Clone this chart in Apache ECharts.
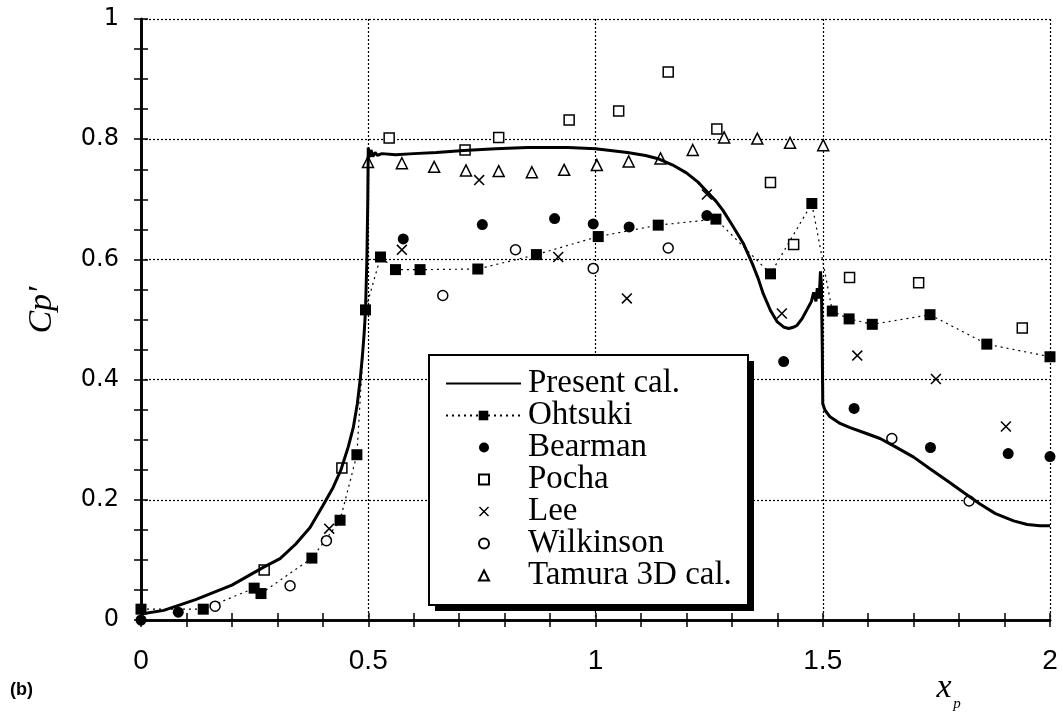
<!DOCTYPE html>
<html>
<head>
<meta charset="utf-8">
<script src="https://cdn.jsdelivr.net/npm/echarts@6/dist/echarts.min.js"></script>
<style>
  html, body { margin: 0; padding: 0; background: #fff; }
  #chart { width: 1063px; height: 715px; }
</style>
</head>
<body>
<div id="chart"></div>
<script>
// Fluctuating pressure coefficient Cp' along the body surface x_p

const xTickValues = [0, 0.5, 1, 1.5, 2];
const xTickLabels = ['0', '0.5', '1', '1.5', '2'];
const yTickValues = [0, 0.2, 0.4, 0.6, 0.8, 1];
const yTickLabels = ['0', '0.2', '0.4', '0.6', '0.8', '1'];

const seriesNames = ['Present cal.', 'Ohtsuki', 'Bearman', 'Pocha', 'Lee', 'Wilkinson', 'Tamura 3D cal.'];

// Present calculation (solid curve)
const presentCal = [
  [0, 0.010], [0.05, 0.016], [0.12, 0.034], [0.2, 0.058], [0.27, 0.088], [0.306, 0.102],
  [0.34, 0.126], [0.372, 0.154], [0.40, 0.190], [0.423, 0.221], [0.44, 0.250], [0.456, 0.288],
  [0.467, 0.320], [0.476, 0.360], [0.482, 0.398], [0.487, 0.438], [0.491, 0.477], [0.494, 0.516],
  [0.497, 0.600], [0.499, 0.700], [0.500, 0.786], [0.503, 0.770], [0.506, 0.782], [0.510, 0.771],
  [0.515, 0.778], [0.520, 0.773], [0.530, 0.776], [0.56, 0.774], [0.60, 0.776], [0.65, 0.778],
  [0.71, 0.781], [0.78, 0.784], [0.85, 0.786], [0.94, 0.786], [1.00, 0.784], [1.07, 0.778],
  [1.11, 0.773], [1.14, 0.767], [1.17, 0.757], [1.20, 0.744], [1.225, 0.729], [1.245, 0.713],
  [1.265, 0.697], [1.28, 0.682], [1.30, 0.658], [1.325, 0.627], [1.345, 0.593], [1.358, 0.568],
  [1.369, 0.543], [1.385, 0.515], [1.40, 0.496], [1.415, 0.487], [1.425, 0.485], [1.435, 0.487],
  [1.443, 0.490], [1.455, 0.502], [1.465, 0.516], [1.475, 0.530], [1.480, 0.545], [1.485, 0.530],
  [1.488, 0.552], [1.492, 0.535], [1.495, 0.580], [1.497, 0.560], [1.499, 0.450], [1.500, 0.360],
  [1.505, 0.349], [1.516, 0.338], [1.538, 0.327], [1.56, 0.320], [1.59, 0.312], [1.626, 0.302],
  [1.66, 0.288], [1.70, 0.271], [1.735, 0.252], [1.773, 0.232], [1.81, 0.212], [1.846, 0.193],
  [1.88, 0.177], [1.92, 0.165], [1.95, 0.159], [1.978, 0.157], [2.0, 0.157]
];

// Ohtsuki (filled squares joined by a dotted line)
const ohtsuki = [
  [0, 0.018], [0.137, 0.018], [0.249, 0.053], [0.264, 0.044], [0.376, 0.103], [0.438, 0.166],
  [0.475, 0.275], [0.494, 0.516], [0.527, 0.604], [0.560, 0.583], [0.614, 0.583], [0.741, 0.584],
  [0.870, 0.608], [1.006, 0.638], [1.138, 0.657], [1.265, 0.667], [1.385, 0.576], [1.476, 0.693],
  [1.521, 0.514], [1.558, 0.501], [1.609, 0.492], [1.736, 0.508], [1.861, 0.459], [2.0, 0.438]
];

const bearman = [
  [0, 0], [0.082, 0.013], [0.577, 0.634], [0.751, 0.658], [0.910, 0.668], [0.995, 0.659],
  [1.074, 0.654], [1.245, 0.673], [1.414, 0.430], [1.569, 0.352], [1.737, 0.287], [1.908, 0.277],
  [2.0, 0.272]
];

const pocha = [
  [0.271, 0.083], [0.442, 0.253], [0.546, 0.802], [0.713, 0.782], [0.787, 0.803], [0.942, 0.832],
  [1.051, 0.847], [1.160, 0.912], [1.267, 0.817], [1.385, 0.728], [1.436, 0.625], [1.559, 0.570],
  [1.711, 0.561], [1.939, 0.486]
];

const lee = [
  [0.414, 0.152], [0.574, 0.616], [0.744, 0.732], [0.918, 0.604], [1.069, 0.535], [1.245, 0.708],
  [1.410, 0.510], [1.576, 0.440], [1.749, 0.401], [1.903, 0.322]
];

const wilkinson = [
  [0.163, 0.023], [0.328, 0.057], [0.408, 0.132], [0.664, 0.540], [0.824, 0.616], [0.995, 0.585],
  [1.160, 0.619], [1.652, 0.302], [1.822, 0.198]
];

const tamura3D = [
  [0.4995, 0.762], [0.574, 0.760], [0.645, 0.754], [0.715, 0.748], [0.787, 0.747], [0.860, 0.745],
  [0.931, 0.749], [1.003, 0.757], [1.073, 0.763], [1.143, 0.768], [1.214, 0.782], [1.283, 0.803],
  [1.356, 0.801], [1.428, 0.794], [1.501, 0.790]
];

function tickLabel(values, labels) {
  return function (v) {
    for (let i = 0; i < values.length; i++) {
      if (Math.abs(values[i] - v) < 1e-9) return labels[i];
    }
    return '';
  };
}

const crossPath = 'path://M0,1L1,0L10,9L9,10ZM9,0L10,1L1,10L0,9Z';
const black = '#000';
const tickStyle = { color: black, width: 1.5 };
const frameStyle = { color: black, width: 2.6 };
const serif = "'Liberation Serif', 'Times New Roman', serif";

// legend frame geometry
const boxLeft = 429, boxTop = 355, boxW = 319, boxH = 250, shadowOff = 6;
const rowPitch = 32, padTop = 12;

const chart = echarts.init(document.getElementById('chart'), null, { renderer: 'canvas' });

chart.setOption({
  backgroundColor: '#fff',
  animation: false,
  grid: { left: 141, top: 19, right: 13, bottom: 95, containLabel: false },
  xAxis: [
    {
      type: 'value', min: 0, max: 2, interval: 0.5,
      axisLine: { lineStyle: frameStyle },
      axisTick: { inside: true, length: 7, lineStyle: tickStyle },
      minorTick: { show: true, splitNumber: 5, length: 7, lineStyle: tickStyle },
      splitLine: { show: true, lineStyle: { color: black, width: 1.2, type: [2, 2] } },
      axisLabel: {
        margin: 27, color: black, fontSize: 28,
        fontFamily: "'Liberation Sans Narrow', 'Liberation Sans', Arial, sans-serif",
        formatter: tickLabel(xTickValues, xTickLabels)
      }
    },
    {
      type: 'value', min: 0, max: 2, interval: 0.5, position: 'top',
      axisLine: { lineStyle: frameStyle },
      axisTick: { inside: true, length: 7, lineStyle: tickStyle },
      minorTick: { show: true, splitNumber: 5, length: 7, lineStyle: tickStyle },
      splitLine: { show: false },
      axisLabel: { show: false }
    }
  ],
  yAxis: [
    {
      type: 'value', min: 0, max: 1, interval: 0.2,
      axisLine: { lineStyle: frameStyle },
      axisTick: { inside: true, length: 7, lineStyle: tickStyle },
      minorTick: { show: true, splitNumber: 4, length: 7, lineStyle: tickStyle },
      splitLine: { show: true, lineStyle: { color: black, width: 1.2, type: [2, 2] } },
      axisLabel: {
        margin: 22, color: black, fontSize: 24,
        fontFamily: "'DejaVu Sans', sans-serif",
        formatter: tickLabel(yTickValues, yTickLabels)
      }
    },
    {
      type: 'value', min: 0, max: 1, interval: 0.2, position: 'right',
      axisLine: { lineStyle: frameStyle },
      axisTick: { inside: true, length: 7, lineStyle: tickStyle },
      minorTick: { show: true, splitNumber: 4, length: 7, lineStyle: tickStyle },
      splitLine: { show: false },
      axisLabel: { show: false }
    }
  ],
  legend: [
    {
      // line samples
      orient: 'vertical',
      left: boxLeft, top: boxTop,
      padding: [padTop, 14, 0, 16],
      itemWidth: 75, itemHeight: 12, itemGap: -1,
      selectedMode: false,
      z: 11,
      data: [
        { name: seriesNames[0], itemStyle: { color: 'rgba(0,0,0,0)', borderWidth: 0 } },
        seriesNames[1]
      ],
      textStyle: { color: black, fontSize: 33, padding: [0, 0, 0, 2], fontFamily: serif }
    },
    {
      // marker-only entries, centred under the line samples
      orient: 'vertical',
      left: 478, top: boxTop + padTop + 2 * rowPitch,
      padding: 0,
      itemWidth: 10, itemHeight: 10, itemGap: -1,
      selectedMode: false,
      z: 11,
      data: seriesNames.slice(2),
      textStyle: { color: black, fontSize: 33, padding: [0, 0, 0, 34], fontFamily: serif }
    }
  ],
  series: [
    {
      name: seriesNames[0], type: 'line', data: presentCal, symbol: 'none',
      lineStyle: { color: black, width: 3 }, itemStyle: { color: black }, z: 5
    },
    {
      name: seriesNames[1], type: 'line', data: ohtsuki, symbol: 'rect', symbolSize: 11,
      lineStyle: { color: black, width: 1.2, type: [2, 4] },
      itemStyle: { color: black }, z: 4
    },
    {
      name: seriesNames[2], type: 'scatter', data: bearman, symbol: 'circle', symbolSize: 11,
      itemStyle: { color: black, opacity: 1 }, z: 4
    },
    {
      name: seriesNames[3], type: 'scatter', data: pocha, symbol: 'rect', symbolSize: 10,
      itemStyle: { color: '#fff', borderColor: black, borderWidth: 1.5, opacity: 1 }, z: 4
    },
    {
      name: seriesNames[4], type: 'scatter', data: lee, symbol: crossPath, symbolSize: 11,
      itemStyle: { color: black, opacity: 1 }, z: 4
    },
    {
      name: seriesNames[5], type: 'scatter', data: wilkinson, symbol: 'circle', symbolSize: 10,
      itemStyle: { color: '#fff', borderColor: black, borderWidth: 1.5, opacity: 1 }, z: 4
    },
    {
      name: seriesNames[6], type: 'scatter', data: tamura3D, symbol: 'triangle', symbolSize: 11,
      itemStyle: { color: '#fff', borderColor: black, borderWidth: 1.5, opacity: 1 }, z: 4
    }
  ],
  graphic: [
    {
      type: 'rect', z: 10,
      shape: { x: boxLeft + shadowOff, y: boxTop + shadowOff, width: boxW, height: boxH },
      style: { fill: black }
    },
    {
      type: 'rect', z: 10,
      shape: { x: boxLeft, y: boxTop, width: boxW, height: boxH },
      style: { fill: '#fff', stroke: black, lineWidth: 2 }
    },
    {
      type: 'text', x: 42, y: 310, rotation: Math.PI / 2,
      style: {
        text: 'Cp\u2032', fill: black, font: "italic 34px " + serif,
        align: 'center', verticalAlign: 'middle'
      }
    },
    {
      type: 'text', x: 944, y: 688,
      style: {
        text: 'x', fill: black, font: "italic 34px " + serif,
        align: 'center', verticalAlign: 'middle'
      }
    },
    {
      type: 'text', x: 957, y: 704,
      style: {
        text: 'p', fill: black, font: "italic 15px " + serif,
        align: 'center', verticalAlign: 'middle'
      }
    },
    {
      type: 'text', x: 10, y: 690,
      style: {
        text: '(b)', fill: black, font: "bold 18px 'Liberation Sans', Arial, sans-serif",
        align: 'left', verticalAlign: 'middle'
      }
    }
  ]
});
</script>
</body>
</html>
